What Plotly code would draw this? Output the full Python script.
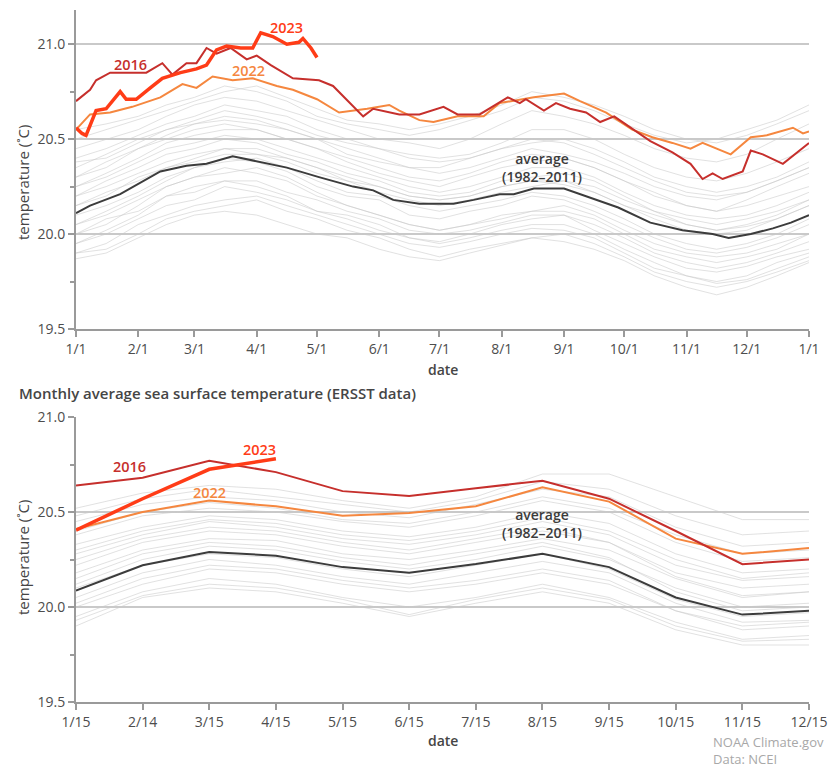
import plotly.graph_objects as go

# ---------------- data: daily OISST (top) ----------------
days_2016 = [0, 7, 10, 17, 23, 35, 43, 48, 55, 60, 65, 70, 77, 85, 90, 97, 108, 121, 128, 138, 143, 148,
             161, 171, 183, 190, 201, 215, 221, 224, 233, 239, 246, 254, 261, 268, 278, 286, 297, 306,
             312, 317, 322, 332, 336, 342, 352, 359, 365]
vals_2016 = [20.70, 20.76, 20.81, 20.85, 20.85, 20.85, 20.90, 20.84, 20.90, 20.90, 20.98, 20.95, 20.98,
             20.92, 20.94, 20.89, 20.82, 20.81, 20.78, 20.67, 20.62, 20.66, 20.63, 20.63, 20.67, 20.63,
             20.63, 20.72, 20.69, 20.71, 20.65, 20.69, 20.66, 20.64, 20.59, 20.62, 20.55, 20.49, 20.43,
             20.37, 20.29, 20.32, 20.29, 20.33, 20.44, 20.42, 20.37, 20.43, 20.48]

days_2022 = [0, 7, 17, 28, 42, 53, 60, 68, 78, 88, 100, 108, 120, 131, 145, 156, 161, 171, 178, 190,
             203, 211, 228, 243, 251, 264, 277, 287, 297, 306, 312, 326, 336, 344, 357, 362, 365]
vals_2022 = [20.55, 20.63, 20.64, 20.67, 20.72, 20.79, 20.77, 20.83, 20.81, 20.82, 20.78, 20.76, 20.71,
             20.64, 20.66, 20.68, 20.65, 20.60, 20.59, 20.62, 20.62, 20.69, 20.72, 20.74, 20.70, 20.64,
             20.55, 20.51, 20.48, 20.45, 20.48, 20.42, 20.51, 20.52, 20.56, 20.53, 20.54]

days_2023 = [0, 3, 5, 10, 15, 20, 22, 25, 30, 37, 43, 52, 60, 65, 70, 75, 82, 88, 92, 98, 105, 111, 113, 117, 120]
vals_2023 = [20.56, 20.53, 20.52, 20.65, 20.66, 20.72, 20.75, 20.71, 20.71, 20.77, 20.82, 20.85, 20.87,
             20.89, 20.97, 20.99, 20.98, 20.98, 21.06, 21.04, 21.00, 21.01, 21.03, 20.98, 20.93]

days_avg = [0, 7, 22, 32, 42, 55, 65, 78, 92, 105, 121, 138, 148, 158, 171, 188, 198, 211, 218, 228, 243,
            254, 270, 286, 302, 317, 325, 336, 347, 356, 365]
vals_avg = [20.11, 20.15, 20.21, 20.27, 20.33, 20.36, 20.37, 20.41, 20.38, 20.35, 20.30, 20.25, 20.23,
            20.18, 20.16, 20.16, 20.18, 20.21, 20.21, 20.24, 20.24, 20.20, 20.14, 20.06, 20.02, 20.00,
            19.98, 20.00, 20.03, 20.06, 20.10]

# other years (grey), sampled about every half month
days_grey = [0, 15, 31, 45, 59, 74, 90, 105, 120, 135, 151, 166, 181, 196, 212, 227, 243, 258, 273, 288,
             304, 319, 334, 349, 365]
grey_daily = [
    [19.90, 19.95, 20.05, 20.10, 20.15, 20.18, 20.20, 20.15, 20.10, 20.05, 20.00, 19.95, 19.93, 19.96, 20.00, 20.03, 20.02, 19.98, 19.90, 19.82, 19.78, 19.74, 19.76, 19.82, 19.88],
    [19.95, 20.02, 20.10, 20.20, 20.22, 20.28, 20.25, 20.20, 20.12, 20.10, 20.05, 19.98, 19.96, 20.00, 20.05, 20.08, 20.10, 20.02, 19.95, 19.88, 19.82, 19.80, 19.83, 19.88, 19.92],
    [20.00, 20.05, 20.15, 20.25, 20.30, 20.32, 20.35, 20.30, 20.22, 20.15, 20.10, 20.05, 20.02, 20.05, 20.10, 20.12, 20.15, 20.10, 20.02, 19.95, 19.90, 19.88, 19.90, 19.95, 20.00],
    [20.05, 20.12, 20.20, 20.28, 20.35, 20.40, 20.38, 20.33, 20.25, 20.20, 20.18, 20.10, 20.08, 20.12, 20.15, 20.20, 20.18, 20.12, 20.05, 19.98, 19.92, 19.90, 19.93, 19.98, 20.05],
    [19.87, 19.90, 19.98, 20.05, 20.10, 20.12, 20.10, 20.05, 20.00, 19.98, 19.92, 19.88, 19.86, 19.90, 19.94, 19.98, 19.96, 19.92, 19.86, 19.78, 19.72, 19.68, 19.72, 19.78, 19.85],
    [20.20, 20.28, 20.35, 20.42, 20.45, 20.50, 20.48, 20.42, 20.38, 20.32, 20.28, 20.22, 20.20, 20.22, 20.28, 20.30, 20.32, 20.28, 20.20, 20.12, 20.08, 20.05, 20.08, 20.12, 20.18],
    [20.15, 20.20, 20.30, 20.35, 20.40, 20.45, 20.42, 20.40, 20.35, 20.30, 20.25, 20.20, 20.18, 20.20, 20.25, 20.28, 20.26, 20.22, 20.15, 20.10, 20.05, 20.02, 20.04, 20.08, 20.15],
    [20.25, 20.32, 20.40, 20.48, 20.52, 20.55, 20.55, 20.50, 20.45, 20.40, 20.35, 20.30, 20.28, 20.32, 20.38, 20.42, 20.40, 20.35, 20.28, 20.22, 20.15, 20.12, 20.15, 20.20, 20.25],
    [20.30, 20.35, 20.45, 20.52, 20.58, 20.62, 20.60, 20.55, 20.50, 20.45, 20.40, 20.35, 20.35, 20.40, 20.45, 20.50, 20.48, 20.42, 20.35, 20.28, 20.22, 20.20, 20.22, 20.28, 20.35],
    [20.35, 20.42, 20.50, 20.55, 20.60, 20.65, 20.62, 20.58, 20.52, 20.48, 20.45, 20.42, 20.40, 20.42, 20.48, 20.55, 20.55, 20.50, 20.42, 20.35, 20.30, 20.28, 20.32, 20.38, 20.45],
    [20.45, 20.50, 20.55, 20.62, 20.68, 20.72, 20.70, 20.65, 20.60, 20.55, 20.50, 20.48, 20.45, 20.50, 20.58, 20.65, 20.62, 20.58, 20.52, 20.45, 20.40, 20.38, 20.42, 20.50, 20.58],
    [20.55, 20.58, 20.62, 20.68, 20.72, 20.78, 20.75, 20.70, 20.62, 20.58, 20.55, 20.52, 20.55, 20.60, 20.65, 20.72, 20.70, 20.65, 20.58, 20.52, 20.48, 20.50, 20.55, 20.60, 20.68],
    [20.40, 20.45, 20.52, 20.58, 20.62, 20.68, 20.65, 20.62, 20.55, 20.50, 20.45, 20.40, 20.38, 20.40, 20.45, 20.48, 20.50, 20.45, 20.38, 20.30, 20.25, 20.22, 20.25, 20.30, 20.38],
    [20.10, 20.15, 20.22, 20.30, 20.35, 20.38, 20.40, 20.35, 20.28, 20.22, 20.20, 20.15, 20.12, 20.15, 20.18, 20.22, 20.20, 20.15, 20.08, 20.00, 19.95, 19.92, 19.95, 20.00, 20.08],
    [19.95, 20.00, 20.08, 20.15, 20.18, 20.25, 20.22, 20.18, 20.12, 20.08, 20.02, 19.98, 19.95, 19.98, 20.02, 20.05, 20.05, 20.00, 19.92, 19.85, 19.78, 19.75, 19.78, 19.85, 19.90],
    [20.20, 20.25, 20.32, 20.38, 20.42, 20.45, 20.45, 20.40, 20.35, 20.28, 20.22, 20.18, 20.15, 20.18, 20.22, 20.25, 20.28, 20.22, 20.15, 20.08, 20.02, 20.00, 20.02, 20.08, 20.15],
    [20.30, 20.38, 20.45, 20.50, 20.55, 20.58, 20.55, 20.50, 20.45, 20.38, 20.32, 20.28, 20.25, 20.30, 20.35, 20.38, 20.40, 20.35, 20.28, 20.20, 20.15, 20.12, 20.18, 20.25, 20.32],
    [20.05, 20.10, 20.18, 20.25, 20.30, 20.35, 20.32, 20.28, 20.20, 20.15, 20.10, 20.05, 20.02, 20.05, 20.08, 20.12, 20.12, 20.08, 20.00, 19.92, 19.88, 19.85, 19.88, 19.92, 20.00],
    [20.50, 20.55, 20.60, 20.65, 20.70, 20.75, 20.78, 20.72, 20.66, 20.60, 20.58, 20.55, 20.58, 20.62, 20.68, 20.75, 20.72, 20.68, 20.62, 20.55, 20.50, 20.48, 20.52, 20.58, 20.65],
    [20.25, 20.30, 20.38, 20.45, 20.48, 20.52, 20.50, 20.45, 20.40, 20.35, 20.30, 20.25, 20.22, 20.25, 20.30, 20.35, 20.35, 20.30, 20.22, 20.15, 20.10, 20.08, 20.10, 20.15, 20.22],
    [19.90, 19.92, 20.00, 20.08, 20.12, 20.15, 20.18, 20.12, 20.08, 20.02, 19.98, 19.92, 19.88, 19.92, 19.95, 19.98, 20.00, 19.95, 19.88, 19.80, 19.75, 19.72, 19.75, 19.80, 19.86],
    [20.38, 20.40, 20.48, 20.55, 20.58, 20.60, 20.58, 20.55, 20.50, 20.42, 20.38, 20.35, 20.32, 20.35, 20.40, 20.45, 20.42, 20.38, 20.32, 20.25, 20.20, 20.18, 20.22, 20.28, 20.35],
    [20.15, 20.22, 20.28, 20.35, 20.38, 20.42, 20.42, 20.38, 20.32, 20.28, 20.25, 20.20, 20.18, 20.20, 20.25, 20.28, 20.28, 20.25, 20.18, 20.12, 20.05, 20.02, 20.05, 20.10, 20.18],
    [20.00, 20.08, 20.12, 20.20, 20.25, 20.28, 20.28, 20.22, 20.18, 20.12, 20.08, 20.02, 20.00, 20.02, 20.06, 20.10, 20.10, 20.05, 19.98, 19.90, 19.85, 19.82, 19.85, 19.90, 19.96],
]

month_start_days = [0, 31, 59, 90, 120, 151, 181, 212, 243, 273, 304, 334, 365]
month_start_labels = ["1/1", "2/1", "3/1", "4/1", "5/1", "6/1", "7/1", "8/1", "9/1", "10/1", "11/1", "12/1", "1/1"]

# ---------------- data: monthly ERSST (bottom) ----------------
months = ["1/15", "2/14", "3/15", "4/15", "5/15", "6/15", "7/15", "8/15", "9/15", "10/15", "11/15", "12/15"]
m_2016 = [20.64, 20.68, 20.77, 20.71, 20.61, 20.585, 20.625, 20.665, 20.57, 20.40, 20.225, 20.25]
m_2022 = [20.41, 20.50, 20.56, 20.53, 20.48, 20.495, 20.53, 20.63, 20.555, 20.36, 20.28, 20.31]
m_2023 = [20.405, 20.57, 20.725, 20.78]
m_avg = [20.086, 20.22, 20.29, 20.27, 20.21, 20.18, 20.226, 20.28, 20.21, 20.05, 19.96, 19.98]
grey_monthly = [
    [19.90, 20.05, 20.10, 20.08, 20.02, 19.95, 20.02, 20.08, 20.02, 19.88, 19.80, 19.80],
    [19.95, 20.08, 20.15, 20.12, 20.05, 20.00, 20.05, 20.12, 20.05, 19.92, 19.83, 19.85],
    [20.00, 20.12, 20.20, 20.18, 20.12, 20.08, 20.12, 20.18, 20.12, 19.98, 19.88, 19.90],
    [20.05, 20.18, 20.25, 20.22, 20.16, 20.12, 20.18, 20.24, 20.18, 20.02, 19.92, 19.93],
    [20.12, 20.25, 20.32, 20.30, 20.24, 20.20, 20.25, 20.32, 20.25, 20.10, 20.00, 20.02],
    [20.18, 20.30, 20.36, 20.35, 20.28, 20.25, 20.30, 20.36, 20.30, 20.15, 20.05, 20.08],
    [20.22, 20.34, 20.40, 20.38, 20.32, 20.28, 20.34, 20.40, 20.34, 20.18, 20.10, 20.12],
    [20.28, 20.38, 20.45, 20.42, 20.36, 20.33, 20.38, 20.45, 20.38, 20.22, 20.14, 20.16],
    [20.33, 20.42, 20.48, 20.46, 20.40, 20.37, 20.42, 20.50, 20.44, 20.28, 20.18, 20.20],
    [20.38, 20.48, 20.52, 20.50, 20.45, 20.42, 20.48, 20.56, 20.50, 20.34, 20.24, 20.26],
    [20.45, 20.54, 20.58, 20.56, 20.50, 20.47, 20.54, 20.62, 20.58, 20.42, 20.32, 20.34],
    [20.52, 20.60, 20.64, 20.62, 20.56, 20.52, 20.58, 20.70, 20.70, 20.58, 20.46, 20.46],
    [20.25, 20.36, 20.42, 20.40, 20.34, 20.30, 20.36, 20.42, 20.34, 20.16, 20.06, 20.08],
    [20.15, 20.28, 20.34, 20.32, 20.26, 20.22, 20.28, 20.34, 20.26, 20.08, 19.98, 20.00],
    [20.02, 20.15, 20.22, 20.20, 20.14, 20.10, 20.14, 20.20, 20.14, 19.98, 19.90, 19.92],
    [19.93, 20.06, 20.12, 20.10, 20.04, 19.96, 20.04, 20.10, 20.04, 19.90, 19.82, 19.83],
    [20.40, 20.50, 20.55, 20.52, 20.46, 20.44, 20.50, 20.58, 20.52, 20.38, 20.28, 20.30],
    [20.30, 20.40, 20.46, 20.44, 20.38, 20.35, 20.40, 20.47, 20.40, 20.25, 20.15, 20.18],
    [20.10, 20.22, 20.28, 20.26, 20.20, 20.16, 20.22, 20.28, 20.20, 20.04, 19.95, 19.97],
    [20.48, 20.57, 20.62, 20.58, 20.54, 20.50, 20.56, 20.66, 20.62, 20.48, 20.38, 20.40],
]

# ---------------- styles ----------------
C2016 = "#c62f2c"
C2022 = "#f5873f"
C2023 = "#ff3c17"
CAVG = "#3c3c3c"
CGREY = "rgba(200,200,200,0.55)"
FONT = "Open Sans"
TXT = "#454545"

fig = go.Figure()

for g in grey_daily:
    fig.add_trace(go.Scatter(x=days_grey, y=g, mode="lines", line=dict(color=CGREY, width=1),
                             xaxis="x", yaxis="y", hoverinfo="skip"))
fig.add_trace(go.Scatter(x=days_avg, y=vals_avg, mode="lines", line=dict(color=CAVG, width=2), xaxis="x", yaxis="y"))
fig.add_trace(go.Scatter(x=days_2022, y=vals_2022, mode="lines", line=dict(color=C2022, width=2), xaxis="x", yaxis="y"))
fig.add_trace(go.Scatter(x=days_2016, y=vals_2016, mode="lines", line=dict(color=C2016, width=2), xaxis="x", yaxis="y"))
fig.add_trace(go.Scatter(x=days_2023, y=vals_2023, mode="lines", line=dict(color=C2023, width=3.5), xaxis="x", yaxis="y"))

for g in grey_monthly:
    fig.add_trace(go.Scatter(x=months, y=g, mode="lines", line=dict(color=CGREY, width=1),
                             xaxis="x2", yaxis="y2", hoverinfo="skip"))
fig.add_trace(go.Scatter(x=months, y=m_avg, mode="lines", line=dict(color=CAVG, width=2), xaxis="x2", yaxis="y2"))
fig.add_trace(go.Scatter(x=months, y=m_2022, mode="lines", line=dict(color=C2022, width=2), xaxis="x2", yaxis="y2"))
fig.add_trace(go.Scatter(x=months, y=m_2016, mode="lines", line=dict(color=C2016, width=2), xaxis="x2", yaxis="y2"))
fig.add_trace(go.Scatter(x=months[:len(m_2023)], y=m_2023, mode="lines", line=dict(color=C2023, width=3.5), xaxis="x2", yaxis="y2"))

axis_common = dict(showline=True, linecolor="#9a9a9a", linewidth=2, ticks="outside", tickcolor="#9a9a9a",
                   tickwidth=1.5, ticklen=6, tickfont=dict(family=FONT, size=14, color="#4d4d4d"),
                   zeroline=False, automargin=False)

# page body has an 8px margin: the figure is offset accordingly
fig.update_layout(
    width=832, height=761,
    margin=dict(l=68, r=31, t=2, b=67, autoexpand=False),
    paper_bgcolor="white", plot_bgcolor="white",
    showlegend=False,
    font=dict(family=FONT, color=TXT),
    xaxis=dict(domain=[0, 1], anchor="y", range=[0, 365], tickvals=month_start_days,
               ticktext=month_start_labels, showgrid=False, **axis_common),
    yaxis=dict(domain=[0.539, 1.0], anchor="x", range=[19.5, 21.18], tickvals=[19.5, 20.0, 20.5, 21.0],
               tickformat=".1f", showgrid=True, gridcolor="#c9c9c9", gridwidth=1.5,
               minor=dict(tickvals=[19.75, 20.25, 20.75], ticks="outside", ticklen=4, tickcolor="#9a9a9a", showgrid=False),
               **axis_common),
    xaxis2=dict(domain=[0, 1], anchor="y2", type="category", range=[0, 11], showgrid=False, **axis_common),
    yaxis2=dict(domain=[0, 0.4118], anchor="x2", range=[19.5, 21.0], tickvals=[19.5, 20.0, 20.5, 21.0],
                tickformat=".1f", showgrid=True, gridcolor="#c9c9c9", gridwidth=1.5,
                minor=dict(tickvals=[19.75, 20.25, 20.75], ticks="outside", ticklen=4, tickcolor="#9a9a9a", showgrid=False),
                **axis_common),
)

def lab(text, x, y, color, xref="x", yref="y", size=14, weight=600, xanchor="center", yanchor="middle", **kw):
    fig.add_annotation(text=text, x=x, y=y, xref=xref, yref=yref, showarrow=False,
                       xanchor=xanchor, yanchor=yanchor,
                       font=dict(family=FONT, size=size, color=color, weight=weight), **kw)

# paper coordinate helpers (reference pixel positions in the 840x769 window)
def px(xp):
    return (xp - 76) / 733.0

def py(yp):
    return (702 - yp) / 692.0

# top labels
lab("2016", 27, 20.895, C2016, size=14.5)
lab("2023", 105, 21.09, C2023, size=14.5)
lab("2022", 86, 20.86, C2022, size=14.5)
lab("average<br>(1982–2011)", 232, 20.35, CAVG)
# bottom labels
lab("2016", 0.81, 20.74, C2016, xref="x2", yref="y2", size=14.5)
lab("2023", 2.75, 20.83, C2023, xref="x2", yref="y2", size=14.5)
lab("2022", 2.0, 20.605, C2022, xref="x2", yref="y2", size=14.5)
lab("average<br>(1982–2011)", 7.0, 20.44, CAVG, xref="x2", yref="y2")

# axis titles
lab("date", px(443), py(369), TXT, xref="paper", yref="paper")
lab("date", px(443), py(740), TXT, xref="paper", yref="paper")
lab("temperature (˚C)", px(23), py(183), TXT, xref="paper", yref="paper", textangle=-90, size=15, weight=500)
lab("temperature (˚C)", px(23), py(558), TXT, xref="paper", yref="paper", textangle=-90, size=15, weight=500)

# subtitle
lab("Monthly average sea surface temperature (ERSST data)", px(17), py(393), TXT,
    xref="paper", yref="paper", xanchor="left", size=15)

# credit
lab("NOAA Climate.gov<br>Data: NCEI", px(711), py(750), "#a8a8a8",
    xref="paper", yref="paper", xanchor="left", align="left", size=13, weight=400)

fig.write_html("out.html")
